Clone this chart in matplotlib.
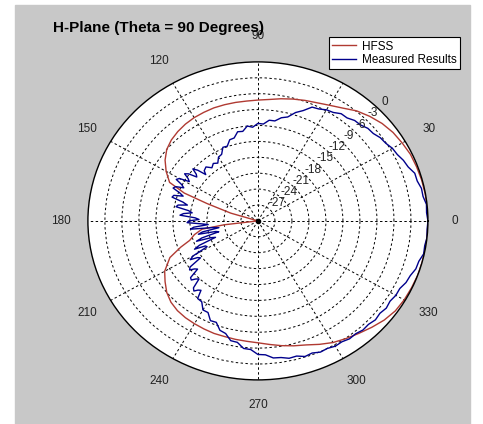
import matplotlib.pyplot as plt
import matplotlib.patches as mpatches
import numpy as np

# HFSS simulated pattern (dB)
hfss_deg = [0, 5, 10, 15, 20, 25, 30, 35, 40, 45, 50, 55, 60, 65, 70, 75, 80, 85,
            90, 95, 100, 105, 110, 115, 120, 125, 130, 135, 140, 145, 150, 155,
            158, 160, 163, 166, 170, 180, 185, 187, 189, 193, 197, 200, 204, 210,
            215, 220, 225, 230, 235, 240, 245, 250, 255, 260, 265, 270, 275, 280,
            285, 290, 295, 300, 305, 310, 315, 320, 325, 330, 335, 340, 345, 350,
            355, 360]
hfss_db = [0.0, 0.0, -0.05, -0.1, -0.2, -0.3, -0.6, -0.9, -1.4, -2.1, -2.9, -4.0,
           -4.8, -5.4, -5.8, -6.2, -6.6, -7.0, -7.2, -7.3, -7.3, -7.3, -7.3, -7.4,
           -7.5, -7.7, -8.0, -8.4, -9.0, -10.0, -11.3, -12.8, -16.0, -20.5, -25.0,
           -30.0, -30.0, -30.0, -30.0, -24.0, -20.0, -18.5, -17.4, -15.5, -13.0,
           -11.0, -10.0, -9.0, -8.3, -7.9, -7.7, -7.6, -7.5, -7.4, -7.4, -7.3,
           -7.2, -7.0, -6.6, -6.1, -5.6, -5.1, -4.3, -3.5, -2.9, -2.3, -1.6, -0.9,
           -0.4, -0.2, -0.1, 0.0, 0.0, 0.0, 0.0, 0.0]

# measured pattern (dB), every 3 degrees
meas_deg = list(range(0, 360, 3)) + [360]
meas_db = [0.0, -0.2, -0.1, -0.5, -0.5, -0.9, -0.9, -1.6, -1.9, -2.4,
           -2.6, -3.1, -3.3, -3.8, -3.9, -4.4, -4.5, -5.0, -5.0, -5.6,
           -5.8, -6.3, -6.5, -7.7, -8.5, -9.7, -10.1, -10.9, -10.9, -11.7,
           -11.6, -12.3, -12.0, -12.9, -12.8, -13.8, -13.9, -14.9, -14.8, -15.9,
           -16.1, -17.0, -16.6, -17.1, -16.3, -16.6, -15.7, -16.0, -14.9, -15.3,
           -14.0, -14.9, -14.1, -15.2, -14.4, -16.3, -15.6, -17.6, -16.8, -18.9,
           -17.8, -19.8, -18.6, -22.0, -20.0, -22.3, -19.6, -21.2, -18.7, -19.6,
           -16.8, -17.3, -15.2, -15.6, -14.0, -14.5, -13.0, -13.2, -11.9, -11.8,
           -10.6, -10.6, -9.4, -9.5, -8.3, -8.0, -6.9, -6.8, -5.8, -5.7,
           -4.8, -4.7, -4.0, -3.9, -3.5, -3.6, -3.1, -3.3, -2.9, -3.0,
           -2.7, -2.8, -2.5, -2.6, -2.3, -2.4, -2.1, -2.3, -2.0, -2.2,
           -1.9, -1.9, -1.4, -1.2, -0.7, -0.6, -0.1, -0.2, 0.0, -0.1, 0.0]

# extra measured samples in the noisy back lobe region
meas_extra_deg = [136.5, 139.5, 142.5, 145.5, 148.5, 151.5, 154.5, 157.5, 160.5,
                  163.5, 166.5, 169.5, 172.5, 175.5, 178.5, 181.5, 184.5, 187.5,
                  190.5, 193.5, 196.5, 199.5, 202.5, 205.5, 208.5, 211.5, 214.5,
                  217.5, 220.5, 223.5, 226.5, 229.5, 232.5]
meas_extra_db = [-17.3, -14.9, -16.4, -14.3, -15.8, -13.6, -15.5, -13.8, -16.0,
                 -14.2, -17.2, -15.3, -18.3, -16.2, -19.6, -17.5, -21.2, -18.0,
                 -23.0, -19.2, -22.8, -18.5, -21.9, -17.6, -19.8, -16.0, -17.7,
                 -14.8, -16.0, -13.8, -14.9, -12.6, -13.5]

ring_db = [0, -3, -6, -9, -12, -15, -18, -21, -24, -27]
angle_ticks = [0, 30, 60, 90, 120, 150, 180, 210, 240, 270, 300, 330]

floor = -30.0
font = 'Liberation Sans'

fig = plt.figure(figsize=(4.83, 4.24), dpi=100, facecolor='white')
# grey MATLAB figure area
fig.patches.append(mpatches.Rectangle((15 / 483, 0), 455 / 483, 419 / 424,
                                      transform=fig.transFigure, color='#c8c8c8',
                                      zorder=-10))

ax = fig.add_axes([0.182, 0.104, 0.704, 0.75], projection='polar')
ax.set_aspect('auto')
ax.set_facecolor('white')
ax.set_ylim(0, -floor)

ax.set_thetagrids(angle_ticks, labels=[''] * len(angle_ticks))
ax.set_rgrids([d - floor for d in ring_db[1:]], labels=[''] * 9)
ax.grid(True, color='black', linestyle=(0, (2.5, 2.5)), linewidth=0.7)
ax.spines['polar'].set_linewidth(1.0)
ax.tick_params(length=0)

m_deg = np.array(meas_deg + meas_extra_deg)
m_db = np.array(meas_db + meas_extra_db)
order = np.argsort(m_deg)

r_h = np.clip(np.array(hfss_db) - floor, 0, None)
r_m = np.clip(m_db[order] - floor, 0, None)
ax.plot(np.radians(hfss_deg), r_h, color='#b03a32', lw=1.0, label='HFSS')
ax.plot(np.radians(m_deg[order]), r_m, color='#00008c', lw=1.0,
        label='Measured Results')
ax.plot([0], [0], 'k.', ms=6)

for a in angle_ticks:
    ax.text(np.radians(a), 30 * 1.16, str(a), ha='center', va='center',
            fontsize=8.5, family=font, color='#222222', clip_on=False)

for d in ring_db:
    ax.text(np.radians(45), d - floor + 1.7, str(d), ha='center', va='center',
            fontsize=8.5, family=font, color='#222222', clip_on=False)

fig.text(53 / 483, 1 - 28 / 424, 'H-Plane (Theta = 90 Degrees)', ha='left',
         va='center', fontsize=11, fontweight='bold', family=font)

leg = ax.legend(loc='upper right', bbox_to_anchor=(460 / 483, 1 - 37 / 424),
                bbox_transform=fig.transFigure, fancybox=False, framealpha=1,
                edgecolor='black', borderpad=0.3, labelspacing=0.1,
                handlelength=2.0, handletextpad=0.5, borderaxespad=0,
                prop={'family': font, 'size': 8.5})
leg.get_frame().set_linewidth(0.8)

fig.savefig('out.png', dpi=100, facecolor=fig.get_facecolor())
